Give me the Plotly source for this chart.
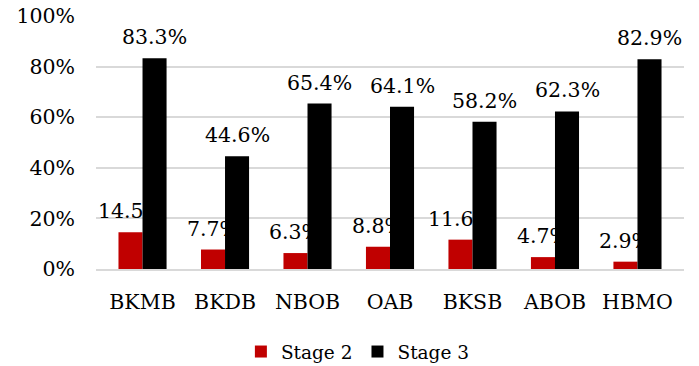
import plotly.graph_objects as go

categories = ["BKMB", "BKDB", "NBOB", "OAB", "BKSB", "ABOB", "HBMO"]
stage2 = [14.5, 7.7, 6.3, 8.8, 11.6, 4.7, 2.9]
stage3 = [83.3, 44.6, 65.4, 64.1, 58.2, 62.3, 82.9]
tick_vals = [0, 20, 40, 60, 80, 100]
tick_text = ["0%", "20%", "40%", "60%", "80%", "100%"]

FONT = "DejaVu Serif"
FS = 20.5
BARGAP = 0.417
RED = "#C00000"
GRID = "#D9D9D9"

fig = go.Figure()
fig.add_trace(go.Bar(name="Stage 2", x=categories, y=stage2, marker_color=RED,
                     marker_line_width=0))
fig.add_trace(go.Bar(name="Stage 3", x=categories, y=stage3, marker_color="#000000",
                     marker_line_width=0))

# data labels (annotations placed over each bar via the axis scales)
half = (1 - BARGAP) / 4
annotations = []
for i, (a, b) in enumerate(zip(stage2, stage3)):
    for xpos, val in ((i - half, a), (i + half, b)):
        annotations.append(dict(
            x=xpos, y=val, xref="x", yref="y", text=f"{val:.1f}%",
            showarrow=False, yanchor="bottom", xanchor="center", yshift=7,
            font=dict(family=FONT, size=FS, color="#000000"),
        ))

fig.update_layout(
    width=699, height=366,
    margin=dict(l=96, r=15, t=16, b=97, autoexpand=False),
    barmode="group", bargap=BARGAP, bargroupgap=0,
    plot_bgcolor="white", paper_bgcolor="white",
    font=dict(family=FONT, size=FS, color="#000000"),
    showlegend=True,
    legend=dict(orientation="h", xref="container", yref="container",
                x=0.512, xanchor="center", y=(366 - 352) / 366, yanchor="middle",
                itemwidth=30, traceorder="normal"),
    legend_font_family=FONT,
    legend_font_size=18.5,
    legend_font_color="#000000",
    annotations=annotations,
    xaxis=dict(showline=True, linecolor=GRID, linewidth=1.5, ticks="",
               ticklabelstandoff=14, tickfont=dict(family=FONT, size=FS)),
    yaxis=dict(range=[0, 100], tickvals=tick_vals, ticktext=tick_text,
               showgrid=True, gridcolor=GRID, gridwidth=1.5, zeroline=False,
               ticks="", ticklabelstandoff=20, tickfont=dict(family=FONT, size=FS)),
)

fig.write_html("out.html")
